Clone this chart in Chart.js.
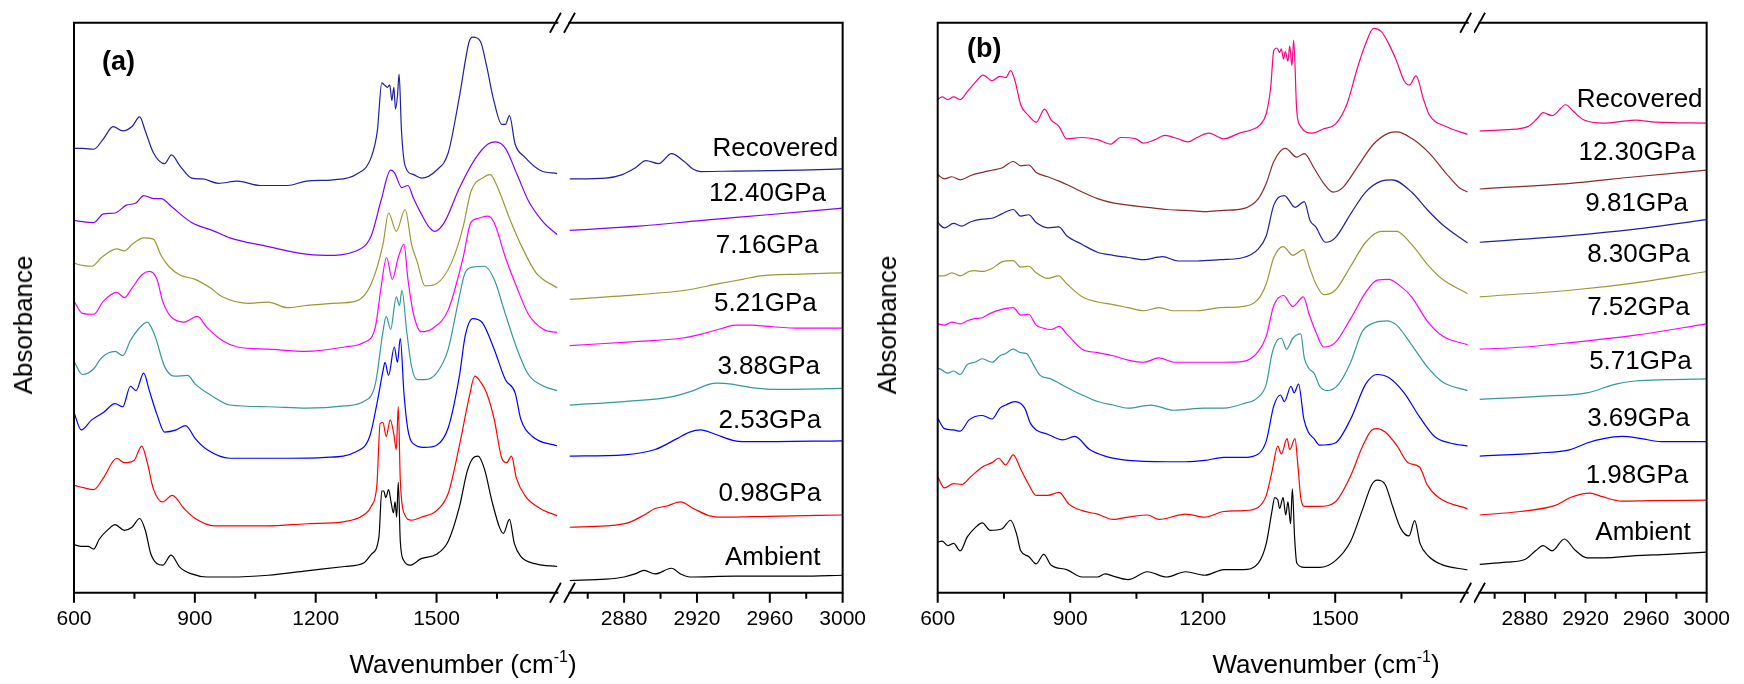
<!DOCTYPE html>
<html>
<head>
<meta charset="utf-8">
<script src="https://cdn.jsdelivr.net/npm/chart.js@4.4.1/dist/chart.umd.min.js"></script>
<style>
  body { margin: 0; background: #fff; }
  #wrap { position: relative; width: 1744px; height: 684px; overflow: hidden; font-family: "Liberation Sans", Arial, sans-serif; color: #000; }
  canvas { position: absolute; top: 0; }
  .txt { position: absolute; white-space: nowrap; line-height: 30px; }
  .tag { font-weight: bold; font-size: 27px; }
  .ylab { font-size: 26px; transform: translate(-50%, -50%) rotate(-90deg); }
  .xlab { font-size: 26px; transform: translateX(-50%); top: 649px; }
  .sup { font-size: 16px; position: relative; top: -11px; }
</style>
</head>
<body>
<div id="wrap">
  <canvas id="a1" width="563" height="684" style="left:0px"></canvas>
  <canvas id="a2" width="317" height="684" style="left:563px"></canvas>
  <canvas id="b1" width="594" height="684" style="left:880px"></canvas>
  <canvas id="b2" width="270" height="684" style="left:1474px"></canvas>

  <div class="txt tag" style="left:102px; top:46px;">(a)</div>
  <div class="txt tag" style="left:967px; top:33px;">(b)</div>
  <div class="txt ylab" style="left:23px; top:325px; line-height:26px;">Absorbance</div>
  <div class="txt ylab" style="left:887px; top:325px; line-height:26px;">Absorbance</div>
  <div class="txt xlab" style="left:463px;">Wavenumber (cm<span class="sup">-1</span>)</div>
  <div class="txt xlab" style="left:1326px;">Wavenumber (cm<span class="sup">-1</span>)</div>
</div>
<script>
// tick values (low = fingerprint region, high = C-H region)
const tickLow = [600, 750, 900, 1050, 1200, 1350, 1500, 1650];
const tickLowLabels = [600, 900, 1200, 1500];
const tickHigh = [2860, 2880, 2900, 2920, 2940, 2960, 2980, 3000];
const tickHighLabels = [2880, 2920, 2960, 3000];

// panel (a)
const namesA = ['Ambient', '0.98GPa', '2.53GPa', '3.88GPa', '5.21GPa', '7.16GPa', '12.40GPa', 'Recovered'];
const colorsA = ['#000000', '#ff0000', '#0000ff', '#339999', '#ff00ff', '#999933', '#8000ff', '#1f1f9f'];
const nameXA = [2961.6, 2960, 2960, 2959.4, 2957.6, 2958.5, 2958.7, 2963];
const nameYA = [0.80, 2.26, 3.93, 5.18, 6.61, 7.95, 9.13, 10.18];

const aAmbient = [[600,1.10],[618,1.06],[635,1.06],[649,1.00],[663,1.23],[685,1.45],[702,1.56],[725,1.43],[744,1.50],[763,1.70],[777,1.43],[791,0.88],[820,0.63],[841,0.86],[863,0.58],[892,0.43],[930,0.36],[987,0.36],[1082,0.40],[1177,0.50],[1272,0.60],[1319,0.68],[1338,0.88],[1357,1.28],[1364,2.33],[1369,2.33],[1374,2.18],[1381,2.36],[1387,2.08],[1393,1.83],[1397,2.08],[1401,1.73],[1405,2.53],[1410,1.18],[1419,0.73],[1434,0.63],[1462,0.78],[1500,0.88],[1529,1.18],[1557,1.98],[1576,2.78],[1590,3.08],[1603,3.13],[1619,2.83],[1638,2.08],[1657,1.48],[1666,1.36],[1681,1.68],[1693,1.13],[1709,0.83],[1747,0.66],[1800,0.60],
  [2850,0.28],[2870,0.31],[2880,0.36],[2886,0.43],[2891,0.51],[2897,0.43],[2906,0.56],[2911,0.43],[2916,0.36],[2941,0.38],[2977,0.38],[3000,0.40]];
const a098 = [[600,2.46],[626,2.40],[649,2.36],[673,2.63],[706,3.08],[725,2.98],[749,3.03],[768,3.36],[782,2.98],[797,2.38],[820,2.08],[844,2.23],[873,1.93],[901,1.70],[949,1.53],[1006,1.53],[1082,1.53],[1177,1.58],[1272,1.63],[1319,1.78],[1338,1.98],[1352,2.48],[1360,3.88],[1367,3.90],[1375,3.58],[1385,3.96],[1394,3.63],[1400,3.28],[1405,4.26],[1410,2.58],[1419,1.83],[1438,1.66],[1462,1.73],[1500,1.88],[1529,2.28],[1557,3.38],[1581,4.48],[1595,4.96],[1609,4.83],[1624,4.58],[1643,3.98],[1662,3.08],[1674,2.98],[1686,3.13],[1698,2.63],[1719,2.23],[1757,1.93],[1800,1.76],
  [2850,1.50],[2870,1.53],[2882,1.60],[2891,1.78],[2897,1.93],[2903,1.98],[2911,2.08],[2918,1.93],[2927,1.76],[2934,1.73],[2959,1.75],[3000,1.78]];
const a253 = [[600,4.13],[618,3.73],[644,3.96],[673,4.13],[702,4.33],[721,4.26],[740,4.73],[754,4.63],[773,5.03],[787,4.63],[806,4.08],[825,3.68],[854,3.73],[877,3.83],[901,3.53],[930,3.28],[987,3.08],[1035,3.08],[1130,3.08],[1225,3.10],[1300,3.23],[1334,3.58],[1353,4.38],[1367,5.08],[1372,5.28],[1381,4.98],[1395,5.63],[1403,5.28],[1410,5.83],[1419,4.58],[1429,3.73],[1448,3.38],[1471,3.33],[1500,3.38],[1529,3.78],[1557,4.98],[1571,5.88],[1590,6.28],[1614,6.18],[1643,5.58],[1671,4.88],[1695,4.58],[1709,3.98],[1738,3.58],[1800,3.36],
  [2850,3.13],[2880,3.16],[2897,3.28],[2909,3.53],[2916,3.68],[2922,3.73],[2930,3.63],[2941,3.48],[2950,3.46],[3000,3.48]];
const a388 = [[600,5.30],[621,5.00],[649,5.13],[668,5.38],[702,5.53],[721,5.43],[740,5.78],[759,6.03],[782,6.20],[801,5.88],[825,5.18],[849,4.96],[882,4.98],[901,4.78],[939,4.53],[987,4.30],[1082,4.26],[1177,4.23],[1272,4.28],[1319,4.38],[1348,4.78],[1367,5.98],[1375,6.33],[1386,6.03],[1400,6.78],[1408,6.58],[1414,6.93],[1426,5.98],[1438,5.18],[1452,4.88],[1471,4.88],[1500,5.03],[1529,5.58],[1552,6.58],[1571,7.33],[1590,7.46],[1619,7.48],[1643,7.18],[1671,6.38],[1700,5.58],[1728,5.00],[1766,4.73],[1800,4.63],
  [2850,4.30],[2880,4.38],[2905,4.48],[2918,4.63],[2927,4.78],[2931,4.80],[2939,4.78],[2950,4.70],[2963,4.66],[3000,4.68]];
const a521 = [[600,6.68],[621,6.40],[649,6.38],[673,6.68],[706,6.88],[725,6.76],[744,6.98],[768,7.28],[787,7.36],[806,7.18],[820,6.68],[840,6.33],[873,6.20],[906,6.33],[930,6.08],[968,5.78],[1006,5.63],[1082,5.58],[1177,5.53],[1272,5.63],[1319,5.73],[1348,6.08],[1362,6.98],[1376,7.68],[1390,7.18],[1405,7.68],[1419,7.98],[1429,7.18],[1443,6.38],[1462,5.98],[1491,6.06],[1529,6.48],[1566,7.68],[1585,8.48],[1604,8.58],[1628,8.63],[1643,8.48],[1671,7.68],[1700,6.98],[1728,6.38],[1766,6.03],[1800,5.96],
  [2850,5.66],[2888,5.76],[2911,5.83],[2923,5.93],[2934,6.06],[2941,6.13],[2950,6.13],[2959,6.10],[2977,6.06],[3000,6.06]];
const a716 = [[600,7.55],[621,7.50],[645,7.48],[668,7.68],[706,7.88],[725,7.83],[744,7.98],[773,8.13],[797,8.10],[816,7.73],[835,7.48],[863,7.28],[901,7.18],[939,6.98],[968,6.78],[1035,6.63],[1082,6.66],[1130,6.53],[1177,6.58],[1243,6.63],[1300,6.68],[1338,7.08],[1367,7.98],[1381,8.70],[1400,8.28],[1422,8.78],[1438,7.98],[1452,7.58],[1471,7.03],[1500,7.08],[1538,7.58],[1566,8.38],[1585,9.18],[1619,9.53],[1633,9.58],[1652,9.28],[1681,8.58],[1709,7.98],[1747,7.33],[1800,6.98],
  [2850,6.72],[2888,6.83],[2914,6.93],[2932,7.08],[2945,7.18],[2955,7.26],[2977,7.30],[3000,7.33]];
const a1240 = [[600,8.53],[621,8.50],[649,8.48],[673,8.68],[702,8.70],[730,8.88],[754,8.93],[773,9.10],[797,9.03],[816,9.03],[844,8.83],[892,8.48],[949,8.28],[987,8.13],[1082,7.93],[1158,7.78],[1224,7.73],[1300,7.83],[1338,8.18],[1362,8.98],[1386,9.68],[1395,9.63],[1414,9.28],[1429,9.33],[1443,9.03],[1462,8.68],[1481,8.38],[1495,8.28],[1519,8.48],[1557,9.28],[1595,9.93],[1628,10.28],[1647,10.33],[1671,10.18],[1700,9.58],[1728,8.98],[1766,8.48],[1800,8.20],
  [2850,8.30],[2888,8.40],[2923,8.53],[2959,8.66],[3000,8.81]];
const aRecovered = [[600,10.18],[621,10.18],[649,10.16],[673,10.40],[697,10.68],[721,10.58],[744,10.68],[763,10.90],[777,10.58],[797,10.08],[825,9.83],[842,10.03],[863,9.78],[892,9.50],[920,9.48],[958,9.38],[1006,9.43],[1063,9.33],[1130,9.33],[1177,9.43],[1243,9.46],[1300,9.58],[1338,9.98],[1353,10.58],[1364,11.68],[1371,11.63],[1378,11.58],[1384,11.63],[1389,11.28],[1394,11.58],[1398,11.08],[1403,11.38],[1407,11.88],[1413,10.58],[1422,9.78],[1443,9.58],[1462,9.50],[1500,9.68],[1529,10.08],[1557,11.38],[1581,12.63],[1590,12.73],[1609,12.63],[1624,12.08],[1642,11.28],[1662,10.73],[1671,10.73],[1681,10.93],[1695,10.28],[1719,9.98],[1757,9.68],[1800,9.60],
  [2850,9.48],[2870,9.50],[2879,9.58],[2886,9.73],[2892,9.90],[2899,9.83],[2906,10.06],[2913,9.88],[2918,9.70],[2922,9.65],[2941,9.66],[2977,9.68],[3000,9.71]];

// panel (b)
const namesB = ['Ambient', '1.98GPa', '3.69GPa', '5.71GPa', '7.52GPa', '8.30GPa', '9.81GPa', '12.30GPa', 'Recovered'];
const colorsB = ['#000000', '#ff0000', '#0000ff', '#339999', '#ff00ff', '#999933', '#1f1f9f', '#8b2a2a', '#ff0080'];
const nameXB = [2958, 2954, 2955, 2956.3, 2955, 2955, 2953.8, 2954, 2955.8];
const nameYB = [1.38, 2.68, 3.98, 5.30, 6.53, 7.73, 8.90, 10.08, 11.30];

const bAmbient = [[600,1.16],[610,1.18],[623,1.08],[636,1.13],[651,0.96],[667,1.28],[684,1.48],[701,1.60],[719,1.43],[745,1.46],[765,1.66],[779,1.33],[788,0.96],[806,0.83],[823,0.66],[840,0.88],[857,0.63],[892,0.53],[927,0.36],[962,0.36],[979,0.43],[997,0.38],[1031,0.30],[1075,0.48],[1118,0.36],[1161,0.48],[1205,0.40],[1248,0.53],[1292,0.53],[1326,0.68],[1344,1.13],[1357,1.88],[1363,2.18],[1370,2.13],[1374,1.93],[1382,2.18],[1388,1.78],[1393,2.08],[1399,1.58],[1403,2.38],[1408,1.28],[1413,0.68],[1430,0.58],[1465,0.58],[1500,0.73],[1535,1.18],[1561,1.88],[1583,2.48],[1595,2.58],[1613,2.48],[1630,1.98],[1648,1.48],[1667,1.30],[1680,1.65],[1692,1.13],[1712,0.83],[1740,0.65],[1800,0.52],
  [2850,0.65],[2868,0.70],[2880,0.76],[2887,0.96],[2892,1.08],[2898,0.96],[2906,1.23],[2913,0.98],[2921,0.80],[2932,0.80],[2953,0.85],[2974,0.88],[3000,0.93]];
const b198 = [[600,2.66],[615,2.40],[636,2.50],[654,2.48],[675,2.66],[701,2.88],[723,2.98],[738,3.08],[754,2.93],[771,3.16],[788,2.83],[806,2.48],[823,2.23],[849,2.23],[875,2.30],[897,2.03],[927,1.88],[962,1.80],[997,1.68],[1031,1.73],[1075,1.78],[1101,1.68],[1161,1.80],[1205,1.73],[1248,1.86],[1292,1.88],[1326,1.96],[1344,2.23],[1357,2.78],[1370,3.36],[1378,3.18],[1391,3.53],[1397,3.28],[1409,3.53],[1415,2.98],[1422,2.18],[1430,1.98],[1465,1.98],[1500,2.08],[1535,2.68],[1561,3.33],[1583,3.73],[1595,3.76],[1613,3.68],[1639,3.38],[1665,2.98],[1691,2.88],[1708,2.48],[1734,2.18],[1800,1.92],
  [2850,1.78],[2877,1.86],[2900,2.00],[2910,2.18],[2923,2.28],[2931,2.20],[2944,2.10],[2963,2.11],[3000,2.12]];
const b369 = [[600,4.00],[615,3.76],[636,3.73],[651,3.70],[671,3.96],[701,4.06],[723,3.98],[741,4.23],[754,4.30],[775,4.38],[797,4.23],[810,3.88],[823,3.73],[849,3.63],[883,3.50],[910,3.58],[944,3.28],[979,3.13],[1031,3.03],[1118,3.00],[1161,3.00],[1205,3.03],[1248,3.10],[1292,3.10],[1326,3.18],[1344,3.48],[1361,4.28],[1376,4.53],[1385,4.38],[1400,4.73],[1407,4.58],[1417,4.78],[1429,3.98],[1439,3.68],[1452,3.53],[1465,3.38],[1500,3.43],[1535,3.98],[1569,4.78],[1595,5.00],[1621,4.93],[1656,4.58],[1691,4.03],[1725,3.58],[1760,3.43],[1800,3.36],
  [2850,3.13],[2889,3.20],[2910,3.28],[2921,3.43],[2932,3.53],[2944,3.58],[2957,3.53],[2970,3.46],[3000,3.46]];
const b571 = [[600,5.15],[610,5.10],[623,5.03],[636,5.08],[651,5.00],[667,5.23],[684,5.28],[701,5.36],[723,5.28],[741,5.43],[754,5.48],[771,5.58],[788,5.50],[801,5.48],[819,5.18],[832,4.98],[856,4.90],[875,4.80],[897,4.68],[927,4.53],[962,4.38],[997,4.30],[1031,4.23],[1083,4.30],[1135,4.18],[1205,4.23],[1248,4.23],[1292,4.33],[1326,4.48],[1344,4.78],[1357,5.48],[1370,5.80],[1378,5.83],[1390,5.58],[1404,5.83],[1422,5.93],[1430,5.38],[1441,5.13],[1452,5.03],[1465,4.73],[1482,4.63],[1508,4.78],[1535,5.28],[1561,5.98],[1587,6.18],[1617,6.23],[1639,6.13],[1673,5.68],[1708,5.18],[1743,4.83],[1800,4.63],
  [2850,4.43],[2889,4.50],[2921,4.58],[2940,4.78],[2953,4.85],[2974,4.88],[3000,4.90]];
const b752 = [[600,6.16],[615,6.13],[632,6.20],[651,6.16],[667,6.23],[684,6.28],[701,6.30],[719,6.40],[741,6.48],[771,6.53],[788,6.36],[806,6.38],[823,6.13],[840,6.06],[857,6.03],[875,6.10],[892,5.93],[927,5.58],[962,5.50],[997,5.43],[1031,5.33],[1066,5.28],[1101,5.38],[1135,5.28],[1191,5.28],[1248,5.28],[1292,5.30],[1326,5.53],[1344,5.88],[1361,6.58],[1383,6.81],[1404,6.56],[1428,6.78],[1441,6.38],[1456,5.98],[1474,5.63],[1500,5.73],[1535,6.28],[1569,6.88],[1595,7.16],[1621,7.18],[1647,7.03],[1673,6.78],[1708,6.23],[1743,5.88],[1800,5.68],
  [2850,5.58],[2880,5.63],[2910,5.73],[2953,5.90],[3000,6.16]];
const b830 = [[600,7.26],[615,7.26],[632,7.33],[651,7.26],[671,7.36],[684,7.38],[701,7.36],[723,7.43],[745,7.58],[771,7.61],[788,7.46],[806,7.48],[823,7.33],[849,7.20],[874,7.26],[892,7.08],[927,6.78],[962,6.66],[997,6.60],[1031,6.53],[1066,6.46],[1101,6.53],[1135,6.46],[1187,6.46],[1240,6.53],[1292,6.56],[1326,6.73],[1344,7.08],[1361,7.68],[1382,7.93],[1404,7.73],[1428,7.86],[1441,7.48],[1456,7.08],[1474,6.83],[1500,6.93],[1535,7.48],[1569,8.03],[1604,8.28],[1639,8.28],[1673,7.98],[1708,7.53],[1743,7.18],[1800,6.85],
  [2850,6.78],[2910,6.93],[2953,7.10],[3000,7.36]];
const b981 = [[600,8.48],[615,8.36],[636,8.46],[654,8.40],[675,8.50],[701,8.56],[723,8.58],[745,8.68],[771,8.78],[788,8.63],[806,8.66],[823,8.48],[849,8.36],[874,8.38],[892,8.18],[927,7.98],[962,7.80],[997,7.73],[1031,7.68],[1066,7.63],[1109,7.70],[1144,7.60],[1187,7.60],[1240,7.63],[1292,7.68],[1326,7.88],[1344,8.18],[1361,8.88],[1385,9.10],[1409,8.83],[1430,8.96],[1443,8.53],[1456,8.38],[1478,8.03],[1500,8.13],[1535,8.68],[1569,9.18],[1604,9.43],[1629,9.46],[1673,9.18],[1708,8.78],[1743,8.43],[1800,8.01],
  [2850,8.03],[2910,8.18],[2953,8.33],[3000,8.55]];
const b1230 = [[600,9.58],[615,9.48],[632,9.53],[651,9.46],[675,9.56],[701,9.63],[723,9.68],[745,9.73],[771,9.88],[788,9.78],[806,9.80],[823,9.63],[849,9.53],[875,9.43],[897,9.33],[927,9.18],[962,9.03],[997,8.93],[1031,8.88],[1075,8.83],[1118,8.78],[1161,8.76],[1205,8.73],[1248,8.76],[1292,8.80],[1326,9.03],[1344,9.38],[1361,9.88],[1387,10.18],[1413,9.98],[1430,10.06],[1452,9.73],[1474,9.38],[1495,9.18],[1517,9.28],[1552,9.78],[1587,10.28],[1621,10.53],[1640,10.56],[1673,10.41],[1713,10.07],[1751,9.61],[1781,9.28],[1800,9.18],
  [2850,9.25],[2910,9.38],[2953,9.53],[3000,9.68]];
const bRecovered = [[600,11.30],[610,11.36],[623,11.30],[636,11.36],[651,11.30],[667,11.48],[684,11.68],[703,11.86],[723,11.73],[741,11.83],[754,11.80],[765,11.96],[775,11.73],[788,11.18],[806,10.93],[823,10.78],[842,11.08],[857,10.83],[875,10.68],[892,10.40],[927,10.43],[962,10.38],[992,10.28],[1014,10.43],[1049,10.40],[1066,10.30],[1092,10.38],[1114,10.48],[1144,10.40],[1166,10.33],[1187,10.43],[1214,10.53],[1248,10.40],[1283,10.53],[1309,10.60],[1331,10.73],[1344,10.98],[1354,11.58],[1361,12.43],[1368,12.48],[1374,12.38],[1378,12.46],[1383,12.23],[1387,12.40],[1393,12.18],[1397,12.53],[1402,12.08],[1406,12.66],[1413,11.03],[1422,10.68],[1448,10.53],[1474,10.63],[1500,10.73],[1526,11.18],[1552,12.08],[1569,12.58],[1587,12.93],[1604,12.86],[1621,12.58],[1639,12.18],[1656,11.73],[1668,11.63],[1683,11.84],[1700,11.30],[1713,10.95],[1751,10.68],[1800,10.50],
  [2850,10.58],[2868,10.61],[2882,10.68],[2888,10.86],[2892,11.00],[2898,10.93],[2907,11.18],[2912,11.03],[2919,10.83],[2932,10.76],[2944,10.80],[2953,10.83],[2966,10.78],[3000,10.76]];

const seriesA = [aAmbient, a098, a253, a388, a521, a716, a1240, aRecovered];
const seriesB = [bAmbient, b198, b369, b571, b752, b830, b981, b1230, bRecovered];

const FONT = '"Liberation Sans", Arial, sans-serif';
Chart.defaults.font.family = FONT;

// box lines, outward ticks and the // break marks
const frame = {
  id: 'frame',
  afterDraw(chart, args, o) {
    const { ctx, chartArea: a, scales: { x } } = chart;
    ctx.save();
    ctx.strokeStyle = '#000';
    ctx.lineWidth = 2;
    ctx.lineCap = 'square';
    ctx.beginPath();
    ctx.moveTo(a.left, a.top); ctx.lineTo(a.right, a.top);
    ctx.moveTo(a.left, a.bottom); ctx.lineTo(a.right, a.bottom);
    if (o.side === 'left') { ctx.moveTo(a.left, a.top); ctx.lineTo(a.left, a.bottom); }
    if (o.side === 'right') { ctx.moveTo(a.right, a.top); ctx.lineTo(a.right, a.bottom); }
    ctx.stroke();

    ctx.lineCap = 'butt';
    ctx.beginPath();
    x.ticks.forEach(t => {
      const px = x.getPixelForValue(t.value);
      const len = o.major.includes(t.value) ? 10 : 6;
      ctx.moveTo(px, a.bottom); ctx.lineTo(px, a.bottom + len);
    });
    ctx.stroke();

    const edge = o.side === 'left' ? a.right - 2 : a.left;
    ctx.lineWidth = 1.8;
    ctx.beginPath();
    [a.top, a.bottom].forEach(y => {
      ctx.moveTo(edge - 5.5, y + 10); ctx.lineTo(edge + 5.5, y - 10);
    });
    ctx.stroke();
    ctx.restore();
  }
};

// pressure names beside each trace
const names = {
  id: 'names',
  afterDatasetsDraw(chart, args, o) {
    if (!o.text) return;
    const { ctx, scales: { x, y } } = chart;
    ctx.save();
    ctx.font = '26px ' + FONT;
    ctx.fillStyle = '#000';
    ctx.textAlign = 'center';
    ctx.textBaseline = 'middle';
    o.text.forEach((s, i) => ctx.fillText(s, x.getPixelForValue(o.xs[i]), y.getPixelForValue(o.ys[i])));
    ctx.restore();
  }
};

function segment(id, series, colors, min, max, ticks, major, pad, side, tags) {
  return new Chart(document.getElementById(id), {
    type: 'line',
    data: {
      datasets: series.map((s, i) => ({
        data: s.filter(p => p[0] >= min && p[0] <= max).map(p => ({ x: p[0], y: p[1] })),
        borderColor: colors[i],
        borderWidth: 1.2,
        borderJoinStyle: 'round',
        pointRadius: 0,
        cubicInterpolationMode: 'monotone',
        fill: false
      }))
    },
    options: {
      responsive: false,
      animation: false,
      layout: { padding: pad },
      plugins: {
        legend: { display: false },
        tooltip: { enabled: false },
        frame: { side, major },
        names: tags || {}
      },
      scales: {
        x: {
          type: 'linear',
          min, max,
          afterFit: s => { s.height = 91.3; },
          afterBuildTicks: s => { s.ticks = ticks.map(v => ({ value: v })); },
          grid: { display: false, drawTicks: false },
          border: { display: false },
          ticks: {
            autoSkip: false,
            maxRotation: 0,
            padding: 14,
            color: '#000',
            font: { size: 21 },
            callback: v => major.includes(v) ? String(v) : ''
          }
        },
        y: { display: false, min: 0, max: 13.06 }
      }
    },
    plugins: [frame, names]
  });
}

segment('a1', seriesA, colorsA, 600, 1800, tickLow, tickLowLabels,
  { left: 74, right: 5.6, top: 22.7, bottom: 0 }, 'left');
segment('a2', seriesA, colorsA, 2850, 3000, tickHigh, tickHighLabels,
  { left: 6.5, right: 30, top: 22.7, bottom: 0 }, 'right',
  { text: namesA, xs: nameXA, ys: nameYA });
segment('b1', seriesB, colorsB, 600, 1800, tickLow, tickLowLabels,
  { left: 57.7, right: 6.3, top: 22.7, bottom: 0 }, 'left');
segment('b2', seriesB, colorsB, 2850, 3000, tickHigh, tickHighLabels,
  { left: 5.5, right: 30.5, top: 22.7, bottom: 0 }, 'right',
  { text: namesB, xs: nameXB, ys: nameYB });
</script>
</body>
</html>
